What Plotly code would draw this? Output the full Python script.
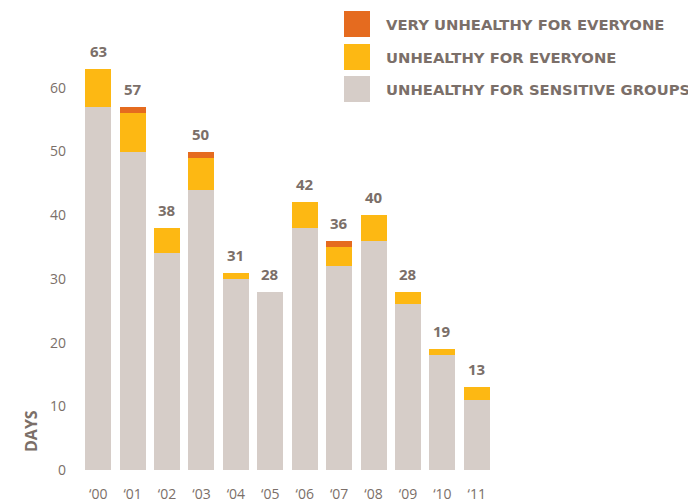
import plotly.graph_objects as go

years = ["‘00", "‘01", "‘02", "‘03", "‘04", "‘05", "‘06", "‘07", "‘08", "‘09", "‘10", "‘11"]
sensitive = [57, 50, 34, 44, 30, 28, 38, 32, 36, 26, 18, 11]
unhealthy = [6, 6, 4, 5, 1, 0, 4, 3, 4, 2, 1, 2]
very_unhealthy = [0, 1, 0, 1, 0, 0, 0, 1, 0, 0, 0, 0]
y_ticks = [0, 10, 20, 30, 40, 50, 60]

series_names = ["VERY UNHEALTHY FOR EVERYONE", "UNHEALTHY FOR EVERYONE", "UNHEALTHY FOR SENSITIVE GROUPS"]
colors = {"very": "#E56B1F", "unh": "#FDB813", "sens": "#D6CDC8"}
TEXT = "#7B6F69"
FONT = "Open Sans"

OFF = 8  # page body margin
W, H = 696 - OFF, 502 - OFF
# plot area in page pixels: x 81..494, y 50..470
ML, MT = 81 - OFF, 50 - OFF
MR = W - (494 - OFF)
MB = H - (470 - OFF)
PW, PH = W - ML - MR, H - MT - MB

def px_x(p):
    return (p - OFF - ML) / PW

def px_y(p):
    return (MT + PH - (p - OFF)) / PH

x = list(range(len(years)))
totals = [a + b + c for a, b, c in zip(sensitive, unhealthy, very_unhealthy)]

fig = go.Figure()
fig.add_bar(x=x, y=sensitive, marker_color=colors["sens"], marker_line_width=0, width=0.755, name=series_names[2])
fig.add_bar(x=x, y=unhealthy, marker_color=colors["unh"], marker_line_width=0, width=0.755, name=series_names[1])
fig.add_bar(x=x, y=very_unhealthy, marker_color=colors["very"], marker_line_width=0, width=0.755, name=series_names[0])

annotations = []
for i, t in enumerate(totals):
    annotations.append(dict(x=i, y=t, text=str(t), showarrow=False, yanchor="bottom", yshift=6,
                            font=dict(family=FONT, size=15, color=TEXT, weight="bold")))

# DAYS label
annotations.append(dict(x=px_x(31), y=px_y(431), xref="paper", yref="paper", text="DAYS", textangle=-90,
                        xanchor="center", yanchor="middle",
                        showarrow=False, font=dict(family=FONT, size=16, color=TEXT, weight="bold")))

# custom legend
shapes = []
leg_colors = [colors["very"], colors["unh"], colors["sens"]]
row_centers = [24, 57, 89]
for name, col, cy in zip(series_names, leg_colors, row_centers):
    shapes.append(dict(type="rect", xref="paper", yref="paper", x0=px_x(344), x1=px_x(370),
                       y0=px_y(cy + 13), y1=px_y(cy - 13), fillcolor=col, line_width=0))
    annotations.append(dict(x=px_x(384), y=px_y(cy), xref="paper", yref="paper", text=name, showarrow=False,
                            xanchor="left", yanchor="middle",
                            font=dict(family="DejaVu Sans", size=14.8, color=TEXT, weight="bold")))

fig.update_layout(
    barmode="stack",
    width=W, height=H,
    margin=dict(l=ML, r=MR, t=MT, b=MB, pad=0, autoexpand=False),
    paper_bgcolor="white", plot_bgcolor="white",
    showlegend=False,
    annotations=annotations,
    shapes=shapes,
    xaxis=dict(tickmode="array", tickvals=x, ticktext=years, range=[-0.5, len(years) - 0.5],
               showgrid=False, zeroline=False, showline=False, ticks="", automargin=False,
               ticklabelstandoff=14,
               tickfont=dict(family=FONT, size=14, color=TEXT)),
    yaxis=dict(range=[0, PH / 6.37], tickmode="array", tickvals=y_ticks, automargin=False,
               showgrid=False, zeroline=False, showline=False, ticks="",
               ticklabelstandoff=14,
               tickfont=dict(family=FONT, size=14, color=TEXT)),
)

fig.write_html("out.html")
